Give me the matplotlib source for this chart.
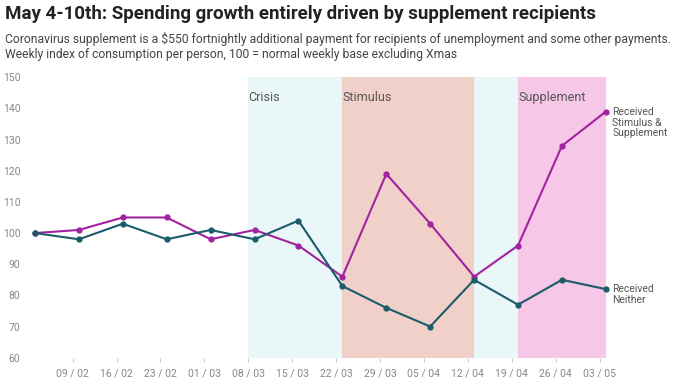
import datetime as dt
import matplotlib.pyplot as plt
import matplotlib.dates as mdates

plt.rcParams['font.family'] = ['Roboto', 'DejaVu Sans']

# weekly points (Mondays), ticks on Sundays
weeks = [dt.date(2020, 2, 3) + dt.timedelta(days=7 * i) for i in range(14)]
stim_supp = [100, 101, 105, 105, 98, 101, 96, 86, 119, 103, 86, 96, 128, 139]
neither = [100, 98, 103, 98, 101, 98, 104, 83, 76, 70, 85, 77, 85, 82]
tick_dates = [dt.date(2020, 2, 9) + dt.timedelta(days=7 * i) for i in range(13)]

periods = [
    ("Crisis", dt.date(2020, 3, 8), dt.date(2020, 3, 23), "#e9f7f9"),
    ("Stimulus", dt.date(2020, 3, 23), dt.date(2020, 4, 13), "#f2d0ca"),
    ("", dt.date(2020, 4, 13), dt.date(2020, 4, 20), "#e9f7f9"),
    ("Supplement", dt.date(2020, 4, 20), dt.date(2020, 5, 4), "#f7c7e7"),
]

magenta = "#a1239f"
teal = "#1b5c6b"

fig = plt.figure(figsize=(6.8, 3.89), dpi=100)
ax = fig.add_axes([0.0422, 0.0805, 0.858, 0.7208])

for name, start, end, col in periods:
    ax.axvspan(start, end, color=col, lw=0, zorder=0)
    if name:
        ax.text(start + dt.timedelta(days=0.6), 143.6, name, fontsize=9,
                color="#555555", va="center", ha="left")

ax.plot(weeks, stim_supp, color=magenta, lw=1.5, marker="o", ms=3.5, zorder=3)
ax.plot(weeks, neither, color=teal, lw=1.5, marker="o", ms=3.5, zorder=3)

ax.text(weeks[-1] + dt.timedelta(days=1.4), stim_supp[-1] + 1.5,
        "Received\nStimulus &\nSupplement", fontsize=7.5, color="#555555",
        va="top", ha="left", linespacing=1.1)
ax.text(weeks[-1] + dt.timedelta(days=1.4), neither[-1] + 1.5,
        "Received\nNeither", fontsize=7.5, color="#555555",
        va="top", ha="left", linespacing=1.1)

ax.set_xlim(dt.date(2020, 2, 2), dt.date(2020, 5, 5))
ax.set_ylim(60, 150)
ax.set_yticks(range(60, 151, 10))
ax.set_xticks(tick_dates)
ax.xaxis.set_major_formatter(mdates.DateFormatter("%d / %m"))
ax.tick_params(axis="y", length=0, labelsize=7.5, labelcolor="#888888", pad=6)
ax.tick_params(axis="x", length=3, color="#cccccc", labelsize=7.5,
               labelcolor="#888888", pad=5)
for s in ax.spines.values():
    s.set_visible(False)

fig.text(0.007, 0.963, "May 4-10th: Spending growth entirely driven by supplement recipients",
         fontsize=13.5, fontweight="bold", color="#222222", va="center", ha="left")
fig.text(0.007, 0.88,
         "Coronavirus supplement is a $550 fortnightly additional payment for recipients of unemployment and some other payments.\n"
         "Weekly index of consumption per person, 100 = normal weekly base excluding Xmas",
         fontsize=8.75, color="#444444", va="center", ha="left", linespacing=1.22)

fig.savefig("out.png", dpi=100)
